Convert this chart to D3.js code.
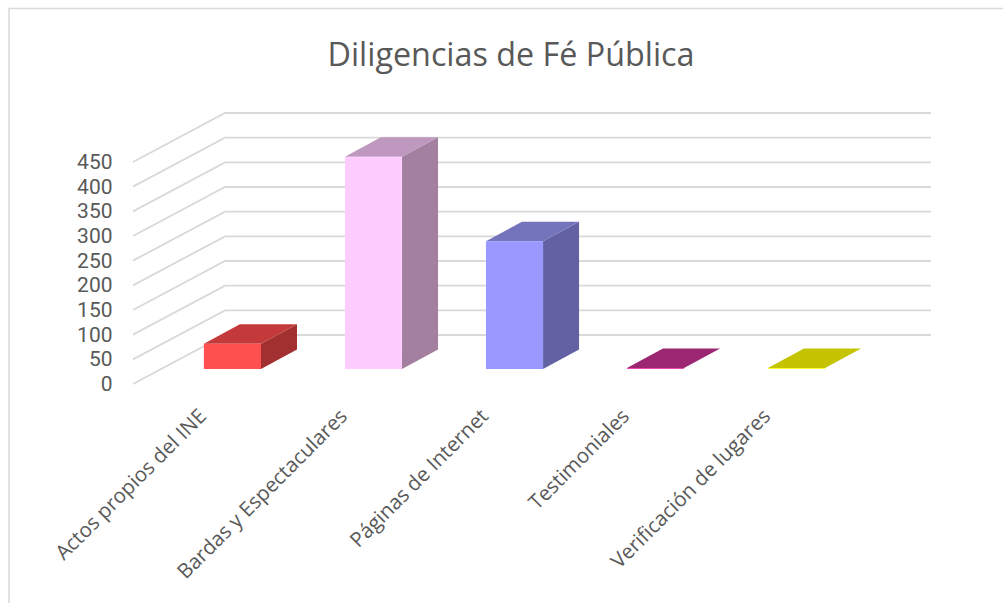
<!DOCTYPE html>
<html><head><meta charset="utf-8">
<script src="https://cdn.jsdelivr.net/npm/d3@7"></script>
<style>html,body{margin:0;padding:0;background:#fff;overflow:hidden}svg{display:block}text{font-family:"Open Sans",sans-serif;fill:#595959}text.tick{font-family:Roboto,sans-serif}</style>
</head><body><div id="c"></div>
<script>
const chartTitle = "Diligencias de Fé Pública";
const categories = ["Actos propios del INE","Bardas y Espectaculares","Páginas de Internet","Testimoniales","Verificación de lugares"];
const values = [51,430,259,0,0];
const tickValues = [0,50,100,150,200,250,300,350,400,450];
const frontColors = ["#ff5050","#ffccff","#9999ff","#e84fb0","#ffff33"];
const sideColors = ["#a33030","#a37fa0","#6161a3","#7a1a60","#a3a300"];
const topColors = ["#c43a3a","#bf98bf","#7474bd","#9c2672","#c4c400"];

const W=1003,H=603;
const svg=d3.select("#c").append("svg").attr("width",W).attr("height",H);
svg.append("path").attr("d","M9,603V8.5H1003").attr("fill","none").attr("stroke","#d9d9d9").attr("stroke-width",1.5);
svg.append("text").attr("x",511).attr("y",66).attr("text-anchor","middle").attr("font-size",32.3).text(chartTitle);

const gridFront=d3.scaleLinear().domain([0,450]).range([384,162]);
const depth={dx:92,dy:-49};
const gridColor="#d9d9d9";
const backX2=931;
const g=svg.append("g");
g.selectAll("path.grid").data(tickValues).join("path").attr("class","grid")
 .attr("d",d=>{const y=gridFront(d);return `M133,${y}L${133+depth.dx},${y+depth.dy}H${backX2}`;})
 .attr("fill","none").attr("stroke",gridColor).attr("stroke-width",1.8);
g.selectAll("text.tick").data(tickValues).join("text").attr("class","tick")
 .attr("x",112.5).attr("y",d=>gridFront(d)+7).attr("text-anchor","end").attr("font-size",21).text(d=>d);

const x=d3.scaleBand().domain(categories).range([162,867]).paddingInner(0.595).paddingOuter(0.297);
const yBar=d3.scaleLinear().domain([0,450]).range([369,147]);
const bd={dx:36,dy:-19.5};
const bars=svg.selectAll("g.bar").data(categories.map((c,i)=>({c,v:values[i],i}))).join("g").attr("class","bar");
bars.append("path").attr("fill",d=>sideColors[d.i]).attr("d",d=>{const r=x(d.c)+x.bandwidth(),t=yBar(d.v),b=yBar(0);
  return `M${r},${t}l${bd.dx},${bd.dy}V${b+bd.dy}L${r},${b}Z`;});
bars.append("path").attr("fill",d=>topColors[d.i]).attr("d",d=>{const l=x(d.c),r=l+x.bandwidth(),t=yBar(d.v)-(d.v?0:1);
  return `M${l},${t}l${bd.dx},${bd.dy}H${r+bd.dx}L${r},${t}Z`;});
bars.append("rect").attr("fill",d=>frontColors[d.i]).attr("x",d=>x(d.c)).attr("width",x.bandwidth())
  .attr("y",d=>yBar(d.v)-(d.v?0:1)).attr("height",d=>Math.max(1,yBar(0)-yBar(d.v)));

svg.selectAll("text.cat").data(categories).join("text").attr("class","cat").attr("font-size",20.5).attr("text-anchor","end")
 .attr("transform",d=>`translate(${x(d)+x.bandwidth()/2-25},${417.5}) rotate(-45)`).text(d=>d);
</script></body></html>
